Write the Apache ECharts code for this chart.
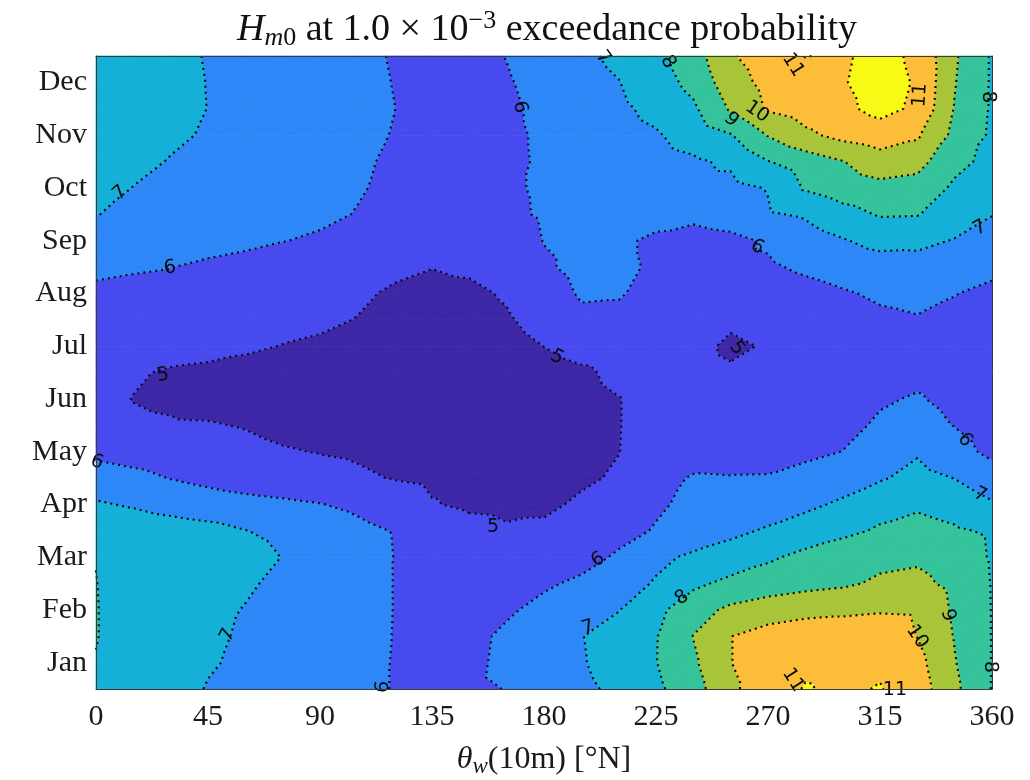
<!DOCTYPE html>
<html><head><meta charset="utf-8">
<script src="https://cdn.jsdelivr.net/npm/echarts@6/dist/echarts.min.js"></script>
<style>html,body{margin:0;padding:0;background:#fff;}#chart{width:1030px;height:780px;}</style>
</head><body><div id="chart"></div>
<script>
// ---- data ----
const directions = [0,15,30,45,60,75,90,105,120,135,150,165,180,195,210,225,240,255,270,285,300,315,330,345,360];
const monthNames = ['Jan','Feb','Mar','Apr','May','Jun','Jul','Aug','Sep','Oct','Nov','Dec'];
const rowMonths = [0.5,1,1.5,2,2.5,3,3.5,4,4.5,5,5.5,6,6.5,7,7.5,8,8.5,9,9.5,10,10.5,11,11.5,12,12.5];
const xTicks = [0,45,90,135,180,225,270,315,360];
const levels = [5,6,7,8,9,10,11];

const hm_00_5 = [7.9,7.65,7.35,6.95,6.8,6.62,6.45,6.3,5.95,5.8,5.8,6.03,6.45,6.8,7.2,7.8,8.6,9.8,10.6,11.05,10.85,11.05,10.5,9.2,7.96];
const hm_01_0 = [7.98,7.7,7.5,7.08,6.85,6.65,6.5,6.35,5.95,5.75,5.75,6.25,6.6,6.93,7.4,7.97,8.85,9.98,10.6,10.85,10.8,10.85,10.3,9.05,7.97];
const hm_01_5 = [8.02,7.75,7.55,7.15,6.9,6.65,6.5,6.35,5.97,5.75,5.7,6.2,6.55,6.97,7.4,7.95,9.02,9.98,10.4,10.6,10.6,10.65,9.98,8.95,7.97];
const hm_02_0 = [8.02,7.75,7.55,7.3,6.95,6.75,6.55,6.35,5.98,5.75,5.65,5.85,6.3,6.7,6.97,7.75,8.6,9.2,9.5,9.7,9.8,9.9,9.85,8.85,7.97];
const hm_02_5 = [8.01,7.75,7.6,7.4,7.15,6.75,6.55,6.35,5.98,5.7,5.5,5.45,5.85,6.2,6.6,7.08,7.8,8.25,8.5,8.7,8.85,9.15,9.25,8.75,7.96];
const hm_03_0 = [7.99,7.7,7.55,7.45,7.3,6.98,6.75,6.5,5.98,5.7,5.45,5.32,5.35,5.6,6.15,6.8,7.15,7.4,7.85,8.25,8.5,8.75,8.85,8.5,7.92];
const hm_03_5 = [7.75,7.6,7.45,7.3,7.02,6.8,6.55,6.25,5.95,5.6,5.3,5.1,5.1,5.3,5.65,6.08,6.45,6.8,7.1,7.45,7.8,8.1,8.35,8.12,7.88];
const hm_04_0 = [7.1,6.9,6.65,6.45,6.3,6.18,6.03,5.8,5.45,5.05,4.85,4.8,4.9,5.08,5.5,5.85,6.25,6.4,6.55,6.8,7.15,7.7,7.85,7.6,7.1];
const hm_04_5 = [6.44,6.25,5.97,5.75,5.55,5.4,5.25,5.12,4.96,4.85,4.78,4.78,4.82,4.92,5.06,5.6,6.1,6.05,6.06,6.3,6.55,6.9,7.3,6.98,6.44];
const hm_05_0 = [5.78,5.6,5.45,5.3,5.2,5.06,4.97,4.9,4.75,4.65,4.62,4.62,4.7,4.85,4.99,5.3,5.45,5.55,5.65,5.8,6.01,6.5,6.9,6.35,5.78];
const hm_05_5 = [5.25,5.12,5.07,5.05,4.96,4.8,4.72,4.65,4.6,4.55,4.55,4.55,4.6,4.75,4.98,5.25,5.4,5.5,5.55,5.65,5.8,6.1,6.3,5.97,5.55];
const hm_06_0 = [5.3,4.98,4.88,4.75,4.68,4.62,4.58,4.55,4.5,4.5,4.5,4.5,4.55,4.75,4.98,5.25,5.35,5.35,5.4,5.5,5.65,5.92,6.06,5.8,5.5];
const hm_06_5 = [5.45,5.1,4.9,4.82,4.75,4.7,4.62,4.58,4.55,4.5,4.5,4.5,4.6,4.85,5.2,5.3,5.2,5.07,5.15,5.3,5.45,5.65,5.82,5.7,5.45];
const hm_07_0 = [5.6,5.5,5.38,5.27,5.12,4.98,4.9,4.8,4.7,4.6,4.55,4.65,5.01,5.35,5.45,5.35,5.17,4.9,5.05,5.3,5.5,5.72,5.85,5.75,5.6];
const hm_07_5 = [5.7,5.6,5.5,5.4,5.3,5.22,5.12,4.98,4.8,4.65,4.65,4.9,5.35,5.85,5.85,5.6,5.35,5.1,5.25,5.45,5.65,5.85,5.95,5.85,5.7];
const hm_08_0 = [5.85,5.78,5.7,5.6,5.5,5.4,5.3,5.12,4.9,4.75,4.8,5.1,5.65,6.08,6.05,5.8,5.6,5.45,5.5,5.7,5.92,6.12,6.2,6.02,5.85];
const hm_08_5 = [6.16,6.08,6.02,5.85,5.72,5.6,5.45,5.3,5.15,5.02,5.15,5.45,5.9,6.2,6.15,5.9,5.75,5.75,5.88,6.15,6.35,6.55,6.6,6.4,6.16];
const hm_09_0 = [6.59,6.5,6.42,6.3,6.18,6.02,5.9,5.75,5.6,5.45,5.35,5.6,6.02,6.2,6.15,5.85,5.6,5.75,6.12,6.55,6.93,7.3,7.25,6.95,6.6];
const hm_09_5 = [7.02,6.85,6.72,6.58,6.44,6.3,6.15,5.97,5.8,5.6,5.5,5.85,6.08,6.2,6.28,6.3,6.25,6.5,6.9,7.12,7.65,8.08,8.05,7.5,7.03];
const hm_10_0 = [7.4,6.98,6.83,6.68,6.52,6.37,6.21,6.06,5.85,5.6,5.55,5.9,6.09,6.25,6.41,6.57,6.73,6.75,7.05,8.1,8.5,8.75,8.6,7.85,7.4];
const hm_10_5 = [7.7,7.25,6.95,6.78,6.61,6.44,6.27,6.1,5.9,5.65,5.6,5.85,6.09,6.28,6.48,6.67,6.87,7.15,7.97,8.48,8.97,9.5,9.35,8.25,7.75];
const hm_11_0 = [7.75,7.46,7.16,6.91,6.73,6.54,6.35,6.16,5.97,5.7,5.6,5.85,6.11,6.38,6.65,6.91,7.38,7.94,9.05,9.79,10.3,10.6,10.15,8.75,7.85];
const hm_11_5 = [7.8,7.53,7.25,6.99,6.79,6.59,6.4,6.2,6.005,5.7,5.6,5.85,6.18,6.5,6.82,7.25,7.84,9.11,10.11,10.47,10.82,11.25,10.85,8.95,7.9];
const hm_12_0 = [7.85,7.56,7.26,6.98,6.78,6.58,6.39,6.19,5.98,5.7,5.68,5.93,6.27,6.62,6.97,7.55,8.28,9.55,10.3,10.65,10.95,11.3,10.93,9.05,7.9];
const hm_12_5 = [7.9,7.57,7.24,6.95,6.75,6.55,6.36,6.16,5.95,5.7,5.75,6.02,6.4,6.78,7.22,7.76,8.55,9.9,10.5,11.02,10.9,11.25,10.85,9.12,7.9];

// contour label annotations: [direction, month, text, angle]
const contourLabels = [
 [9.6,9.90,'7',0.7],[29.7,8.48,'6',0.15],[170.3,11.53,'6',-1.35],[203.7,12.47,'7',-0.95],
 [229.8,12.39,'8',-1.1],[255.1,11.29,'9',-0.75],[265.6,11.44,'10',-0.6],[280.0,12.33,'11',-1.0],
 [331.1,11.76,'11',1.5],[358.4,11.72,'8',-1.5],[265.6,8.88,'6',-0.5],[355.2,9.24,'7',0.5],
 [26.9,6.45,'5',0.2],[185.2,6.79,'5',-0.5],[257.5,6.96,'5',-0.9],[349.1,5.22,'6',-0.85],
 [0.4,4.80,'6',-0.35],[159.5,3.57,'5',0],[201.7,2.95,'6',0.55],[53.0,1.52,'7',1.1],
 [197.7,1.66,'7',0.3],[235.4,2.23,'8',0.6],[342.3,1.90,'9',-1.3],[329.9,1.49,'10',-0.98],
 [359.2,0.92,'8',-1.55],[280.0,0.67,'11',-1.0],[321.0,0.48,'11',0],[115.3,0.54,'6',1.45],
 [355.2,4.18,'7',-0.45]
];

// ---- styles ----
const bandColors = ['#3d27a6','#474aee','#2e87f7','#15b0d8','#35c39b','#a8c438','#fcbd39','#f8f914'];
const SERIF = 'Liberation Serif';

// ---- contouring (marching triangles on the read grid) ----
const Z = [hm_00_5,hm_01_0,hm_01_5,hm_02_0,hm_02_5,hm_03_0,hm_03_5,hm_04_0,hm_04_5,hm_05_0,hm_05_5,hm_06_0,hm_06_5,
           hm_07_0,hm_07_5,hm_08_0,hm_08_5,hm_09_0,hm_09_5,hm_10_0,hm_10_5,hm_11_0,hm_11_5,hm_12_0,hm_12_5];
const NX = directions.length, NY = rowMonths.length;
function node(i,j){ return [directions[i], rowMonths[j], Z[j][i], j*NX+i]; }
function clip(poly, c, keepAbove){
  const out=[];
  for(let k=0;k<poly.length;k++){
    const a=poly[k], b=poly[(k+1)%poly.length];
    const ina = keepAbove ? a[2]>=c : a[2]<=c;
    const inb = keepAbove ? b[2]>=c : b[2]<=c;
    if(ina) out.push(a);
    if(ina!==inb){ const t=(c-a[2])/(b[2]-a[2]); out.push([a[0]+t*(b[0]-a[0]), a[1]+t*(b[1]-a[1]), c]); }
  }
  return out;
}
const fills=[]; const segs=levels.map(()=>[]);
function processTri(tri){
  const zs=tri.map(p=>p[2]); const zmin=Math.min(...zs), zmax=Math.max(...zs);
  for(let b=0;b<=levels.length;b++){
    const lo = b===0 ? -Infinity : levels[b-1];
    const hi = b===levels.length ? Infinity : levels[b];
    if(hi<=zmin || lo>zmax) continue;
    let poly=tri.map(p=>[p[0],p[1],p[2]]);
    if(lo>zmin) poly=clip(poly,lo,true);
    if(poly.length>=3 && hi<zmax) poly=clip(poly,hi,false);
    if(poly.length>=3) fills.push([b,poly]);
  }
  levels.forEach((L,k)=>{
    const above=tri.map(p=>p[2]>L);
    const n=above.filter(Boolean).length;
    if(n===0||n===3) return;
    const pts=[];
    [[0,1],[1,2],[2,0]].forEach(e=>{
      if(above[e[0]]!==above[e[1]]){
        const p=tri[e[0]], q=tri[e[1]]; const t=(L-p[2])/(q[2]-p[2]);
        pts.push({key:Math.min(p[3],q[3])+'_'+Math.max(p[3],q[3]), x:p[0]+t*(q[0]-p[0]), y:p[1]+t*(q[1]-p[1])});
      }
    });
    if(pts.length===2) segs[k].push(pts);
  });
}
for(let j=0;j<NY-1;j++) for(let i=0;i<NX-1;i++){
  const a=node(i,j), b=node(i+1,j), c=node(i+1,j+1), d=node(i,j+1);
  processTri([a,b,c]); processTri([a,c,d]);
}
function chain(list){
  const byKey=new Map();
  list.forEach((s,idx)=>s.forEach(e=>{ if(!byKey.has(e.key)) byKey.set(e.key,[]); byKey.get(e.key).push(idx); }));
  const used=new Array(list.length).fill(false); const lines=[];
  for(let s=0;s<list.length;s++){
    if(used[s]) continue; used[s]=true;
    const line=[list[s][0],list[s][1]];
    for(const dir of [1,-1]){
      while(true){
        const end = dir===1 ? line[line.length-1] : line[0];
        const cand=(byKey.get(end.key)||[]).find(k=>!used[k]);
        if(cand===undefined) break;
        used[cand]=true;
        const sg=list[cand]; const nx = sg[0].key===end.key ? sg[1] : sg[0];
        if(dir===1) line.push(nx); else line.unshift(nx);
      }
    }
    lines.push(line.map(p=>[p.x,p.y]));
  }
  return lines;
}
const contourLines=[]; segs.forEach(list=>chain(list).forEach(l=>contourLines.push(l)));

// ---- chart ----
const chart = echarts.init(document.getElementById('chart'), null, {renderer:'canvas'});
const axisLineStyle = {show:true, lineStyle:{color:'#3a3a3a', width:1}};
chart.setOption({
  animation:false,
  backgroundColor:'#ffffff',
  title:{
    text:'{hi|H}{si|m}{s|0}{n| at 1.0 × 10}{p|−3}{n| exceedance probability}',
    left:542, top:3, textAlign:'center',
    textStyle:{fontFamily:SERIF, fontSize:38, fontWeight:'normal', color:'#111',
      rich:{
        hi:{fontFamily:SERIF, fontSize:38, fontStyle:'italic', color:'#111'},
        n:{fontFamily:SERIF, fontSize:38, color:'#111'},
        si:{fontFamily:SERIF, fontSize:26, fontStyle:'italic', color:'#111', padding:[16,0,0,0]},
        s:{fontFamily:SERIF, fontSize:26, color:'#111', padding:[16,0,0,0]},
        p:{fontFamily:SERIF, fontSize:26, color:'#111', padding:[0,0,18,0]}
      }}
  },
  grid:{left:96, top:56, width:896, height:633, show:false, containLabel:false, outerBoundsMode:'none'},
  xAxis:[
    {type:'value', min:0, max:360, interval:45, position:'bottom', z:10,
     axisLine:axisLineStyle, axisTick:{show:false}, splitLine:{show:false},
     axisLabel:{fontFamily:SERIF, fontSize:30, color:'#1a1a1a', margin:13,
       customValues:xTicks},
     name:'{t|θ}{w|w}{n|(10m) [°N]}', nameLocation:'middle', nameGap:52,
     nameTextStyle:{fontFamily:SERIF, fontSize:32, color:'#1a1a1a',
       rich:{t:{fontFamily:SERIF, fontSize:32, fontStyle:'italic', color:'#1a1a1a'},
             w:{fontFamily:SERIF, fontSize:23, fontStyle:'italic', color:'#1a1a1a', padding:[14,0,0,0]},
             n:{fontFamily:SERIF, fontSize:32, color:'#1a1a1a'}}}},
    {type:'value', min:0, max:360, position:'top', z:10, axisLine:axisLineStyle,
     axisTick:{show:false}, axisLabel:{show:false}, splitLine:{show:false}}
  ],
  yAxis:[
    {type:'value', min:0.5, max:12.5, show:false, splitLine:{show:false}},
    {type:'category', data:monthNames, boundaryGap:true, position:'left', z:10,
     axisLine:axisLineStyle, axisTick:{show:false}, splitLine:{show:false},
     axisLabel:{fontFamily:SERIF, fontSize:30, color:'#1a1a1a', margin:9}},
    {type:'value', min:0.5, max:12.5, position:'right', z:10, axisLine:axisLineStyle,
     axisTick:{show:false}, axisLabel:{show:false}, splitLine:{show:false}}
  ],
  series:[
    {type:'custom', name:'bands', xAxisIndex:0, yAxisIndex:0, silent:true, progressive:0, z:1,
     data:fills.map((f,k)=>[f[1][0][0], f[1][0][1], k]), encode:{x:0,y:1},
     renderItem:(params, api)=>{
       const f=fills[params.dataIndex]; const col=bandColors[f[0]];
       return {type:'polygon', shape:{points:f[1].map(p=>api.coord([p[0],p[1]]))},
               style:{fill:col, stroke:col, lineWidth:0.8}};
     }},
    {type:'custom', name:'contours', xAxisIndex:0, yAxisIndex:0, silent:true, progressive:0, z:3,
     data:contourLines.map((l,k)=>[l[0][0], l[0][1], k]), encode:{x:0,y:1},
     renderItem:(params, api)=>{
       const l=contourLines[params.dataIndex];
       return {type:'polyline', shape:{points:l.map(p=>api.coord([p[0],p[1]]))},
               style:{fill:null, stroke:'#0a0a0a', lineWidth:2.1, lineDash:[2,4]}};
     }},
    {type:'custom', name:'labels', xAxisIndex:0, yAxisIndex:0, silent:true, clip:false, z:4,
     data:contourLabels.map((c,k)=>[c[0], c[1], k]), encode:{x:0,y:1},
     renderItem:(params, api)=>{
       const c=contourLabels[params.dataIndex]; const pt=api.coord([c[0],c[1]]);
       return {type:'text', x:pt[0], y:pt[1], rotation:c[3],
               style:{text:c[2], fill:'#0a0a0a', font:'19px "DejaVu Sans"', align:'center', verticalAlign:'middle',
                      textAlign:'center', textVerticalAlign:'middle'}};
     }}
  ]
});
</script></body></html>
